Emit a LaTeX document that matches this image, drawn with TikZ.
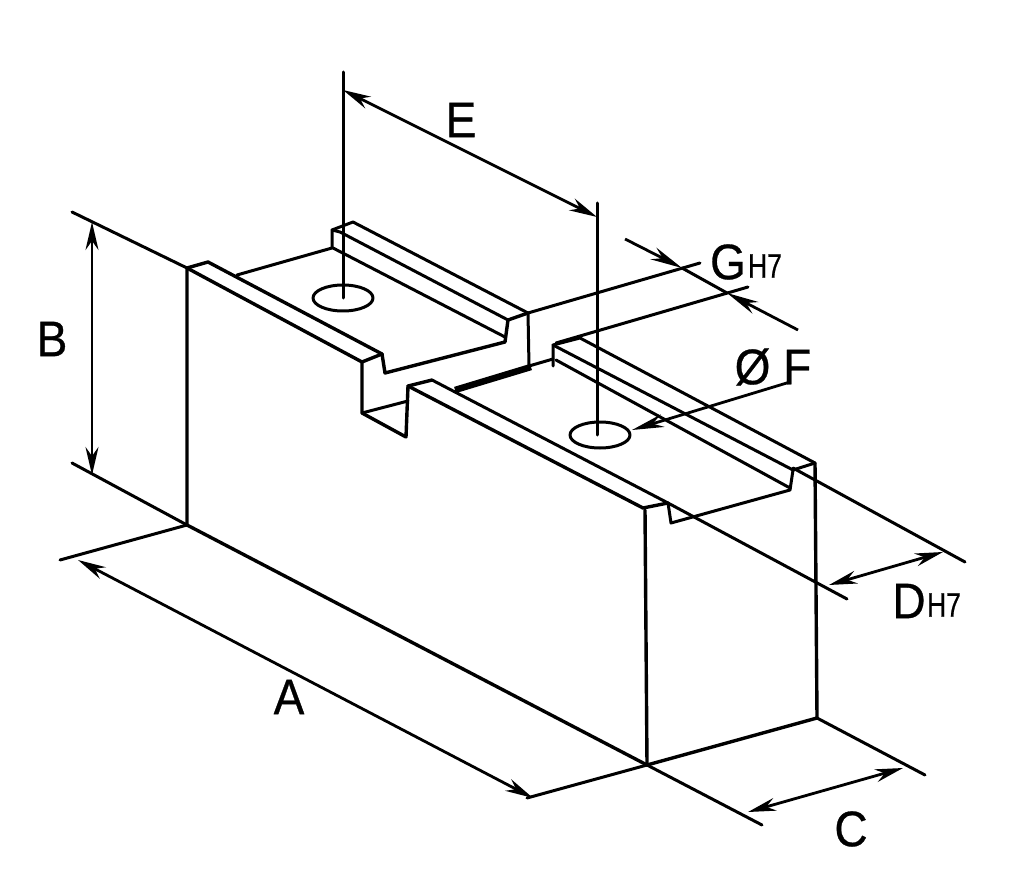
\documentclass[tikz,border=0pt]{standalone}
\usepackage{fontspec}
\setmainfont[FakeBold=0.6,FakeStretch=0.92]{Liberation Sans}
\newfontfamily\subfont[FakeStretch=0.78,FakeBold=0.6]{Liberation Sans}
\usetikzlibrary{arrows.meta}
\tikzset{
  part/.style={line width=3.4pt,line cap=round,line join=round},
  thinline/.style={line width=3pt,line cap=round,line join=round},
  dimline/.style={line width=2.8pt,{Stealth[length=28pt,width=13pt]}-{Stealth[length=28pt,width=13pt]}},
  tipline/.style={line width=2.8pt,-{Stealth[length=32pt,width=13pt]}},
  lab/.style={inner sep=0pt,font=\fontsize{50}{50}\selectfont},
  sub/.style={inner sep=0pt,font=\subfont\fontsize{34}{34}\selectfont}
}
\begin{document}
\begin{tikzpicture}[x=1pt,y=-1pt]
\useasboundingbox[fill=white] (0,0) rectangle (1024,890);
% block outline
\draw[part] (187,268) -- (187,525) -- (647,765) -- (817,718) -- (815,463);
\draw[part] (645,510) -- (647,765);
% left top lip
\draw[part] (187,268) -- (208,262) -- (382,354) -- (385,373) -- (505,342) -- (508,320) -- (528,313);
\draw[part] (187,268) -- (362,362) -- (382,354);
% left floor back and back rail
\draw[thinline] (237,275) -- (332,248) -- (332,230) -- (353,222) -- (528,313) -- (529,366) -- (553,359);
\draw[thinline] (332,230) -- (340,232) -- (508,320);
\draw[thinline] (333,248) -- (505,337);
% slot
\draw[part] (362,362) -- (362,413) -- (406,437) -- (408,386) -- (432,380);
\draw[thinline] (362,413) -- (408,401);
\draw[line width=6.5pt] (455,390) -- (531,367);
% front lip, right part
\draw[part] (408,386) -- (643,508) -- (668,503);
\draw[thinline] (432,380) -- (668,503) -- (671,523) -- (790,490) -- (793,470) -- (815,463);
% right rail
\draw[thinline] (553,366) -- (553,345) -- (580,338) -- (815,463);
\draw[thinline] (553,345) -- (793,470);
\draw[thinline] (556,360) -- (790,488);
% holes
\draw[thinline] (343,298) ellipse [x radius=30,y radius=13];
\draw[thinline] (600,435) ellipse [x radius=30,y radius=13];
% extension lines
\draw[thinline] (343,72) -- (343,298);
\draw[thinline] (597,203) -- (597,435);
\draw[thinline] (72,212) -- (187,268);
\draw[thinline] (72,463) -- (187,525);
\draw[thinline] (60,560) -- (187,525);
\draw[thinline] (527,798) -- (647,765);
\draw[thinline] (647,765) -- (762,825);
\draw[thinline] (817,718) -- (925,775);
\draw[thinline] (528,313) -- (700,263);
\draw[thinline] (556,343) -- (748,287);
\draw[thinline] (793,468) -- (965,562);
\draw[thinline] (668,503) -- (847,599);
% dimension lines
\coordinate (Aa) at (78,560); \coordinate (Ab) at (533,798);
\coordinate (Ba) at (92,222); \coordinate (Bb) at (92,475);
\coordinate (Ca) at (748,812); \coordinate (Cb) at (903,768);
\coordinate (Da) at (829,585); \coordinate (Db) at (943,552);
\coordinate (Ea) at (343,90); \coordinate (Eb) at (597,217);
\coordinate (Fa) at (632,430); \coordinate (Fb) at (790,382);
\coordinate (Ga) at (625,239); \coordinate (Gt) at (682,268);
\coordinate (Gb) at (798,330); \coordinate (Gu) at (727,293);
\draw[dimline] (Aa) -- (Ab);
\draw[dimline] (Ba) -- (Bb);
\draw[dimline] (Ca) -- (Cb);
\draw[dimline] (Da) -- (Db);
\draw[dimline] (Ea) -- (Eb);
\draw[tipline] (Fb) -- (Fa);
\draw[tipline] (Ga) -- (Gt);
\draw[tipline] (Gb) -- (Gu);
\draw[thinline] (Gt) -- (Gu);
% labels
\node[lab] (lA) at (289,697) {A};
\node[lab] (lB) at (52,339) {B};
\node[lab] (lC) at (851,829) {C};
\node[lab] (lD) at (909,601) {D};
\node[sub] (lDs) at (944,605) {H7};
\node[lab] (lE) at (461,120) {E};
\node[lab] (lF) at (773,367) {Ø F};
\node[lab] (lG) at (728,262) {G};
\node[sub] (lGs) at (765,266) {H7};
\end{tikzpicture}
\end{document}
